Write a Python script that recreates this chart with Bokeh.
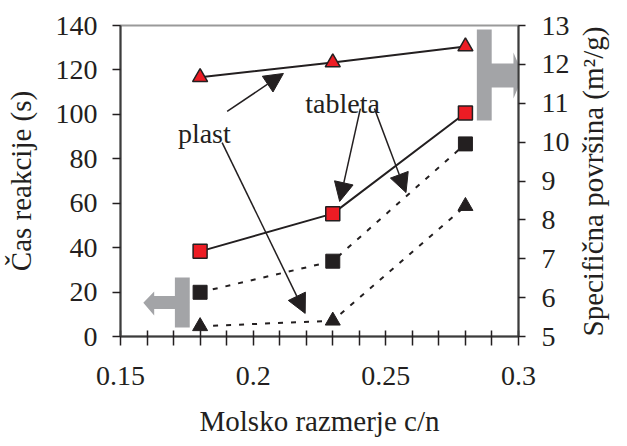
import math
from bokeh.plotting import figure
from bokeh.models import (Range1d, LinearAxis, SingleIntervalTicker, FixedTicker,
                          PrintfTickFormatter, Arrow, NormalHead, Label)
from bokeh.embed import file_html
from bokeh.resources import INLINE

# ---- data ----
ratio = [0.18, 0.23, 0.28]
plast_surface = [11.67, 12.05, 12.46]      # red triangles, right axis (m2/g)
tableta_surface = [7.19, 8.16, 10.75]      # red squares, right axis (m2/g)
tableta_time = [19.9, 33.9, 86.7]          # black squares, left axis (s)
plast_time = [4.6, 7.1, 58.7]              # black triangles, left axis (s)

x_major = [0.15, 0.2, 0.25, 0.3]
x_minor = [0.16, 0.17, 0.18, 0.19, 0.21, 0.22, 0.23, 0.24, 0.26, 0.27, 0.28, 0.29]

FONT = "Liberation Serif"
AXFONT = "serif"
RED = "#ed1c24"
BLK = "#231f20"
GREY = "#a3a4a7"

p = figure(width=627, height=446, output_backend="svg", toolbar_location=None,
           x_range=Range1d(0.15, 0.3), y_range=Range1d(0, 140),
           x_axis_type=None, y_axis_type=None,
           min_border_left=120, min_border_top=25, min_border_right=104, min_border_bottom=110)
p.extra_y_ranges = {"surf": Range1d(5, 13)}
p.grid.visible = False
p.background_fill_color = "white"
p.border_fill_color = "white"
p.outline_line_color = "#9a9a9a"
p.outline_line_width = 2

xaxis = LinearAxis(axis_label="Molsko razmerje c/n",
                   ticker=FixedTicker(ticks=x_major, minor_ticks=x_minor),
                   formatter=PrintfTickFormatter(format="%g"))
yaxis = LinearAxis(axis_label="Čas reakcije (s)",
                   ticker=SingleIntervalTicker(interval=20, num_minor_ticks=0))
right = LinearAxis(y_range_name="surf", axis_label="Specifična površina (m²/g)",
                   ticker=SingleIntervalTicker(interval=1, num_minor_ticks=0))
p.add_layout(xaxis, "below")
p.add_layout(yaxis, "left")
p.add_layout(right, "right")

for ax in [yaxis, xaxis, right]:
    ax.axis_line_color = "#3c3c3c"
    ax.axis_line_width = 2
    ax.major_tick_line_color = BLK
    ax.major_tick_line_width = 1.5
    ax.minor_tick_line_color = BLK
    ax.minor_tick_line_width = 1.5
    ax.major_label_text_font = AXFONT
    ax.major_label_text_font_size = "28px"
    ax.major_label_text_color = BLK
    ax.axis_label_text_font = AXFONT
    ax.axis_label_text_font_size = "29px"
    ax.axis_label_text_font_style = "normal"
    ax.axis_label_text_color = BLK

xaxis.major_tick_in = 6
xaxis.major_tick_out = 9
xaxis.minor_tick_in = 6
xaxis.minor_tick_out = 9
xaxis.major_label_standoff = 21
xaxis.axis_label_standoff = 17

yaxis.major_tick_in = 0
yaxis.major_tick_out = 8
yaxis.major_label_standoff = 15
yaxis.axis_label_standoff = 16

right.major_tick_in = 0
right.major_tick_out = 7
right.major_label_standoff = 16
right.axis_label_standoff = 20
right.axis_label_orientation = math.pi / 2
right.axis_label_align = "start"

# ---- grey direction arrows (annotation shapes) ----
right_arrow_x = [0.2843, 0.2899, 0.2899, 0.2981, 0.2981, 0.3018, 0.2981, 0.2981, 0.2899, 0.2899, 0.2843]
right_arrow_y = [138.2, 138.2, 122.9, 122.9, 127.8, 117.5, 107.1, 112.1, 112.1, 97.2, 97.2]
left_arrow_x = [0.1705, 0.1761, 0.1761, 0.1705, 0.1705, 0.1627, 0.1627, 0.1586, 0.1627, 0.1627, 0.1705]
left_arrow_y = [26.6, 26.6, 4.05, 4.05, 12.4, 12.4, 9.5, 15.2, 20.3, 18.2, 18.2]
p.patch(left_arrow_x, left_arrow_y, fill_color=GREY, line_color=None)

# ---- series ----
p.line(ratio, plast_surface, y_range_name="surf", line_color=BLK, line_width=2)
p.line(ratio, tableta_surface, y_range_name="surf", line_color=BLK, line_width=2)
p.line(ratio, tableta_time, line_color=BLK, line_width=2, line_dash="5 8")
p.line(ratio, plast_time, line_color=BLK, line_width=2, line_dash="5 8")

p.patch(right_arrow_x, right_arrow_y, fill_color=GREY, line_color=None)

p.scatter(ratio, plast_surface, y_range_name="surf", marker="triangle", size=15,
          fill_color=RED, line_color=BLK, line_width=1.5)
p.scatter(ratio, tableta_surface, y_range_name="surf", marker="square", size=14,
          fill_color=RED, line_color=BLK, line_width=1.5)
p.scatter(ratio, tableta_time, marker="square", size=14, fill_color=BLK, line_color=BLK)
p.scatter(ratio, plast_time, marker="triangle", size=15, fill_color=BLK, line_color=BLK)

# ---- callout arrows and labels ----
callouts = [
    (0.1902, 101.3, 0.2114, 118.4),
    (0.1883, 87.3, 0.2196, 10.4),
    (0.2404, 102.6, 0.2326, 60.8),
    (0.2457, 102.6, 0.2576, 64.8),
]
for xs, ys, xe, ye in callouts:
    p.add_layout(Arrow(x_start=xs, y_start=ys, x_end=xe, y_end=ye, line_color=BLK, line_width=1.5,
                       end=NormalHead(size=19, fill_color=BLK, line_color=BLK, line_width=1)))

p.add_layout(Label(x=0.1816, y=91.4, text="plast", text_font=FONT, text_font_size="28px",
                   text_align="center", text_baseline="alphabetic", text_color=BLK))
p.add_layout(Label(x=0.2337, y=104.9, text="tableta", text_font=FONT, text_font_size="28px",
                   text_align="center", text_baseline="alphabetic", text_color=BLK))

open("out.html", "w").write(file_html(p, INLINE))
